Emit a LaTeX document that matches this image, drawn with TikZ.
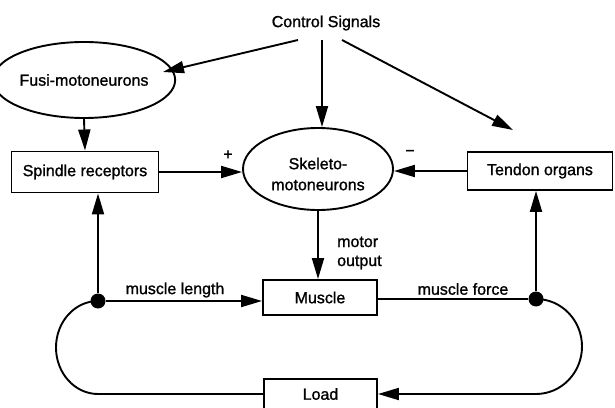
\documentclass[tikz,border=0pt]{standalone}
\usepackage{fontspec}
\setmainfont{Liberation Sans}[UprightFeatures={FakeBold=1.2}]
\usetikzlibrary{arrows.meta,shapes.geometric,calc}
\begin{document}
\begin{tikzpicture}[x=1pt,y=1pt,
  every node/.style={font=\fontsize{16}{19}\selectfont},
  conn/.style={line width=1.9pt},
  arr/.style={conn,-{Triangle[length=21pt,width=12pt]}},
  oval/.style={draw,ellipse,line width=1.9pt,inner sep=0pt},
  boxnode/.style={draw,rectangle,line width=1.9pt,inner sep=0pt},
  dotnode/.style={circle,fill=black,inner sep=0pt,minimum size=15pt}]
\useasboundingbox (0,0) rectangle (615,407);
\node (cs) at (326,384) {Control Signals};
\node[oval,minimum width=148pt,minimum height=76pt] (fusi) at (84,327) {Fusi-motoneurons};
\node[boxnode,minimum width=147pt,minimum height=41pt] (spindle) at (85,235) {Spindle receptors};
\node[oval,minimum width=150pt,minimum height=82pt] (skel) at (318,238) {};
\node[align=center,inner sep=0pt] (skeltxt) at (318,233) {Skeleto-\\[2pt]motoneurons};
\node[boxnode,minimum width=145pt,minimum height=38pt] (tendon) at (540,236) {Tendon organs};
\node[boxnode,minimum width=114pt,minimum height=35pt] (muscle) at (320,109.5) {Muscle};
\node[boxnode,minimum width=113pt,minimum height=30pt] (load) at (320.5,13) {Load};
\node[dotnode] (dotL) at (98,106) {};
\node[dotnode] (dotR) at (536,108) {};
% labels
\node (plus) at (228,252) {+};
\node (minus) at (410,254) {−};
\node (mlen) at (175,117) {muscle length};
\node (mforce) at (463,118) {muscle force};
\node[align=left,anchor=west,inner sep=0pt] (motout) at (337,154) {motor\\output};
% control signal arrows
\coordinate (cs1) at (298,367);
\coordinate (fusiin) at (163,335);
\coordinate (cs2) at (322,367);
\coordinate (cs3) at (342,367);
\coordinate (tendin) at (513,277);
\draw[arr] (cs1) -- (fusiin);
\draw[arr] (cs2) -- (cs2 |- skel.north);
\draw[arr] (cs3) -- (tendin);
% main connectors
\draw[arr] (fusi.south) -- (spindle.north);
\draw[arr] (spindle.east) -- (spindle.east -| skel.west);
\draw[arr] (tendon.west) -- (tendon.west -| skel.east);
\draw[arr] (skel.south) -- (skel.south |- muscle.north);
\draw[arr] (dotL) -- (dotL |- spindle.south);
\draw[arr] (dotL) -- (dotL -| muscle.west);
\draw[conn] (muscle.east |- dotR) -- (dotR);
\draw[arr] (dotR) -- (dotR |- tendon.south);
% loops
\draw[conn] (dotL.center) arc[start angle=90,end angle=270,x radius=42pt,y radius=46.5pt] -- (load.west);
\draw[arr] (dotR.center) arc[start angle=90,end angle=-90,x radius=46pt,y radius=47.5pt] -- (load.east);
\end{tikzpicture}
\end{document}
